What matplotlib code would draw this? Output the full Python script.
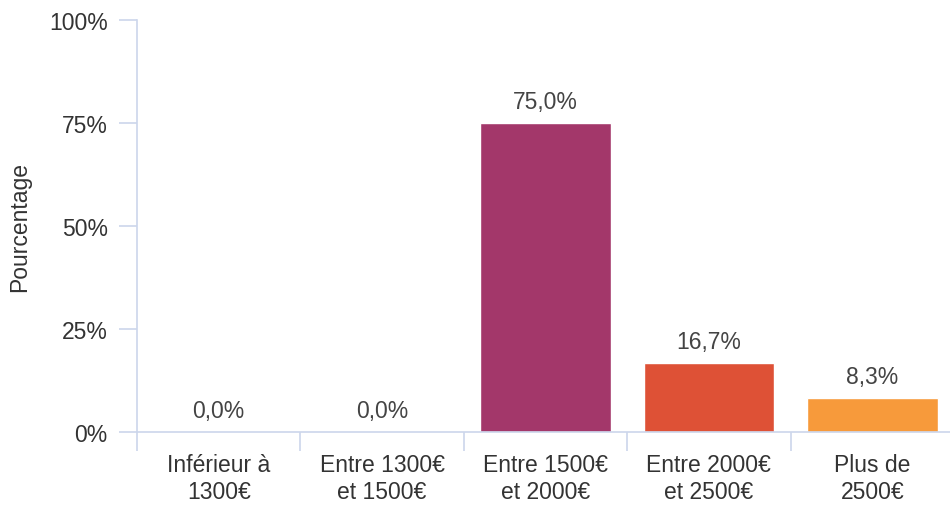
import numpy as np
import matplotlib.pyplot as plt

categories = ['Inférieur à\n1300€', 'Entre 1300€\net 1500€', 'Entre 1500€\net 2000€',
              'Entre 2000€\net 2500€', 'Plus de\n2500€']
values = [0.0, 0.0, 75.0, 16.7, 8.3]
colors = ['#8c1d5f', '#6b1f5e', '#a3376a', '#de5136', '#f79a3b']
yticks = [0, 25, 50, 75, 100]

plt.rcParams['font.family'] = ['Liberation Sans', 'DejaVu Sans']

fig = plt.figure(figsize=(9.5, 5.06), dpi=100)
ax = fig.add_axes([137 / 950, 1 - 433 / 506, 817 / 950, 412 / 506])

x = np.arange(len(categories))
bars = ax.bar(x, values, width=0.8, color=colors, edgecolor='white', linewidth=1, zorder=2)

# etiquettes de valeur au-dessus des barres
for xi, v in zip(x, values):
    ax.annotate(f'{v:.1f}%'.replace('.', ','), (xi, v), xytext=(0, 7),
                textcoords='offset points', ha='center', va='bottom',
                fontsize=16.5, color='#444444')

ax.set_xlim(-0.5, len(categories) - 0.5)
ax.set_ylim(0, 100)

axis_col = '#ccd6eb'
for s in ['top', 'right']:
    ax.spines[s].set_visible(False)
ax.spines['left'].set_color(axis_col)
ax.spines['bottom'].set_color(axis_col)
ax.spines['left'].set_linewidth(1.2)
ax.spines['bottom'].set_linewidth(1.2)

ax.set_yticks(yticks)
ax.set_yticklabels([f'{t}%' for t in yticks])
ax.tick_params(axis='y', length=13, width=1.2, color=axis_col, labelsize=16.5,
               labelcolor='#333333', pad=8)

ax.set_xticks(x)
ax.set_xticklabels(categories, linespacing=1.25)
ax.set_xticks(np.arange(len(categories) + 1) - 0.5, minor=True)
ax.tick_params(axis='x', which='major', length=0, labelsize=16.5, labelcolor='#333333', pad=15)
ax.tick_params(axis='x', which='minor', length=14, width=1.2, color=axis_col)

ax.set_ylabel('Pourcentage', fontsize=16.5, color='#333333', labelpad=13)

fig.savefig('out.png', dpi=100)
